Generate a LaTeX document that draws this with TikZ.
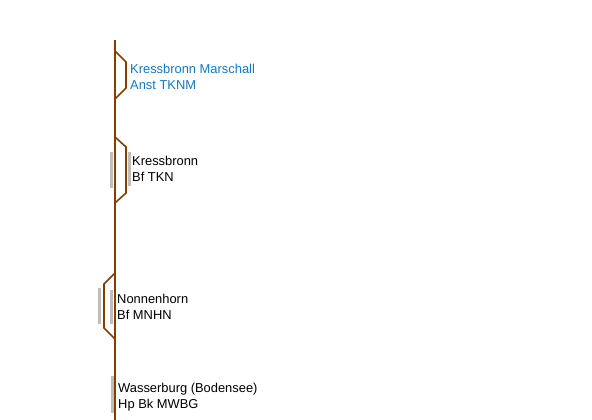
\documentclass[tikz,border=0pt]{standalone}
\usepackage{fontspec}
\setmainfont{Liberation Sans}
\definecolor{track}{RGB}{128,64,0}
\definecolor{plat}{RGB}{190,190,190}
\definecolor{lbl}{RGB}{16,120,200}
\begin{document}
\begin{tikzpicture}[x=1pt,y=-1pt,
  trk/.style={draw=track,line width=1.6pt},
  platf/.style={draw=plat,line width=3pt},
  stn/.style={anchor=west,align=left,inner sep=0pt,font=\fontsize{12.9}{16}\selectfont}]
\useasboundingbox (0,0) rectangle (592,420);
% main line
\coordinate (top) at (115,40);
\coordinate (bot) at (115,420);
\draw[trk] (top) -- (bot);
% Kressbronn Marschall
\draw[trk] (115,51) -- (126,62) -- (126,88) -- (115,99);
\node[stn,text=lbl] (kmar) at (130,77) {Kressbronn Marschall\\Anst TKNM};
% Kressbronn
\draw[platf] (111,152) -- (111,188);
\draw[platf] (129,152) -- (129,186);
\draw[trk] (115,137) -- (126,147) -- (126,193) -- (115,203);
\node[stn] (kres) at (132,169) {Kressbronn\\Bf TKN};
% Nonnenhorn
\draw[platf] (99,288) -- (99,324);
\draw[platf] (111,290) -- (111,324);
\draw[trk] (115,273) -- (104,284) -- (104,328) -- (115,339);
\node[stn] (nonn) at (117,307) {Nonnenhorn\\Bf MNHN};
% Wasserburg
\draw[platf] (112,376) -- (112,413);
\node[stn] (wass) at (118,397) {Wasserburg (Bodensee)\\Hp Bk MWBG};
\end{tikzpicture}
\end{document}
